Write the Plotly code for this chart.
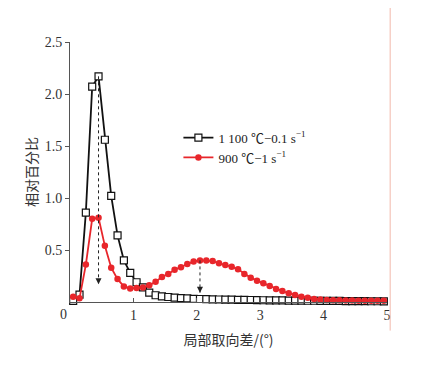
import plotly.graph_objects as go

# x positions (bin centres, degrees)
x_vals = [round(0.05 + 0.1 * i, 2) for i in range(50)]

# 1 100 ℃-0.1 s-1 (black squares)
black_vals = [0.01, 0.07, 0.86, 2.07, 2.17, 1.56, 1.02, 0.64, 0.40, 0.28,
              0.19, 0.14, 0.09, 0.065, 0.055, 0.048, 0.042, 0.038, 0.034, 0.031,
              0.029, 0.027, 0.025, 0.024, 0.023, 0.022, 0.021, 0.02, 0.019, 0.018,
              0.017, 0.016, 0.016, 0.015, 0.014, 0.013, 0.013, 0.012, 0.012, 0.011,
              0.011, 0.010, 0.010, 0.009, 0.009, 0.008, 0.008, 0.007, 0.007, 0.006]

# 900 ℃-1 s-1 (red dots)
red_vals = [0.05, 0.035, 0.36, 0.80, 0.81, 0.54, 0.33, 0.22, 0.15, 0.13,
            0.135, 0.14, 0.16, 0.195, 0.24, 0.27, 0.31, 0.335, 0.365, 0.39,
            0.40, 0.40, 0.394, 0.372, 0.356, 0.34, 0.314, 0.27, 0.234, 0.205,
            0.18, 0.154, 0.125, 0.106, 0.083, 0.067, 0.051, 0.042, 0.03, 0.024,
            0.02, 0.018, 0.016, 0.015, 0.014, 0.013, 0.012, 0.012, 0.011, 0.011]

series_names = ["1 100 ℃−0.1 s<sup>−1</sup>", "900 ℃−1 s<sup>−1</sup>"]
x_ticks = [1, 2, 3, 4, 5]
y_ticks = [0.5, 1.0, 1.5, 2.0, 2.5]
y_ticktext = ["0.5", "1.0", "1.5", "2.0", "2.5"]
black_arrow_tip = 0.17
red_arrow_tip = 0.09

serif = '"Times New Roman", "Liberation Serif", "Noto Sans CJK SC", serif'
cjk = '"Noto Sans CJK SC", sans-serif'

fig = go.Figure()
fig.add_trace(go.Scatter(
    x=x_vals, y=black_vals, mode="lines+markers", name=series_names[0],
    line=dict(color="#111111", width=1.8),
    marker=dict(symbol="square", size=7, color="white",
                line=dict(color="#111111", width=1.2)),
    cliponaxis=False,
))
fig.add_trace(go.Scatter(
    x=x_vals, y=red_vals, mode="lines+markers", name=series_names[1],
    line=dict(color="#e8262b", width=1.8),
    marker=dict(symbol="circle", size=6.5, color="#e8262b"),
    cliponaxis=False,
))

# peak arrows derived from data
def peak(vals, lo, hi):
    idx = max((i for i in range(len(vals)) if lo <= x_vals[i] <= hi), key=lambda i: vals[i])
    return x_vals[idx], vals[idx]

bx, by = peak(black_vals, 0, 1)
rx, ry = peak(red_vals, 1.5, 3)
for px, py, tip in [(bx, by, black_arrow_tip), (rx, ry, red_arrow_tip)]:
    fig.add_shape(type="line", x0=px, x1=px, y0=py, y1=tip, xref="x", yref="y",
                  line=dict(color="#222222", width=1, dash="dot"))
    fig.add_annotation(x=px, y=tip, ax=px, ay=tip + 0.06, xref="x", yref="y",
                       axref="x", ayref="y", text="", showarrow=True,
                       arrowhead=2, arrowsize=1.2, arrowwidth=1, arrowcolor="#222222")

# shared origin label
fig.add_annotation(x=0, y=0, xref="x", yref="y", text="0", showarrow=False,
                   xanchor="right", yanchor="top", xshift=-1, yshift=-3,
                   font=dict(family=serif, size=14, color="#333333"))

# scan edge line
fig.add_shape(type="line", xref="paper", yref="paper", x0=1.01, x1=1.01,
              y0=-0.11, y1=1.17, line=dict(color="#f2b8aa", width=1))

fig.update_layout(
    width=424, height=381,
    margin=dict(l=62, r=45, t=34, b=87, autoexpand=False),
    paper_bgcolor="white", plot_bgcolor="white",
    font=dict(family=serif, size=14, color="#333333"),
    showlegend=True,
    legend=dict(x=0.342, y=0.69, xanchor="left", yanchor="top",
                bgcolor="rgba(0,0,0,0)", font=dict(family=serif, size=13, color="#222222"),
                itemwidth=30, tracegroupgap=0),
    xaxis=dict(range=[0, 5], tickvals=x_ticks, ticks="inside", ticklen=4,
               tickcolor="#555555", showline=True, linecolor="#555555", linewidth=1,
               showgrid=False, zeroline=False, mirror=False, automargin=False,
               tickfont=dict(family=serif, size=14, color="#333333"),
               title=dict(text="局部取向差/(°)", font=dict(family=cjk, size=14, color="#333333"),
                          standoff=13)),
    yaxis=dict(range=[0, 2.5], tickvals=y_ticks, ticktext=y_ticktext, ticks="outside",
               ticklen=4, tickcolor="#555555", showline=True, linecolor="#555555",
               linewidth=1, showgrid=False, zeroline=False, automargin=False,
               tickfont=dict(family=serif, size=14, color="#333333"),
               title=dict(text="相对百分比", font=dict(family=cjk, size=14, color="#333333"),
                          standoff=3)),
)

fig.write_html("out.html")
